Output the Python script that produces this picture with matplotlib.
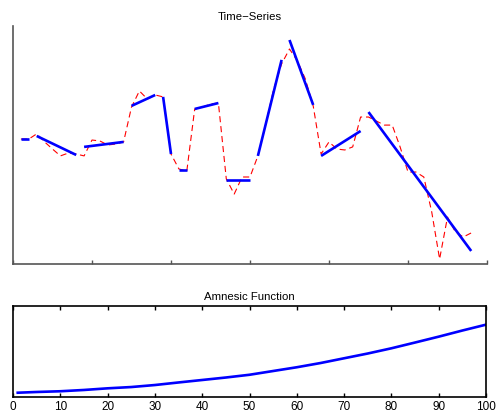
import numpy as np
import matplotlib
matplotlib.use("Agg")
import matplotlib.pyplot as plt

plt.rcParams['font.family'] = ['Liberation Sans', 'DejaVu Sans']

# raw time series (red dashed), one value per time step
series_t = np.arange(1, 59)
series_y = [5.27, 5.27, 5.49, 5.15, 4.85, 4.56, 4.68, 4.64, 4.56, 5.23,
            5.19, 5.02, 5.06, 5.15, 6.62, 7.30, 6.96, 7.13, 7.05, 4.64,
            4.01, 3.92, 6.54, 6.62, 6.75, 6.79, 3.59, 2.95, 3.67, 3.67,
            4.56, 5.91, 7.38, 8.44, 9.07, 8.57, 7.81, 6.67, 4.64, 5.15,
            4.85, 4.81, 4.94, 6.20, 6.20, 6.03, 5.86, 5.86, 4.94, 3.88,
            3.88, 3.67, 2.20, 0.21, 1.98, 1.35, 1.14, 1.31]

# piecewise linear approximation (blue segments): start/end time and value
seg_t0 = [1, 3, 9, 15, 19, 21, 23, 27, 31, 35, 39, 45]
seg_t1 = [2, 8, 14, 18, 20, 22, 26, 30, 34, 38, 44, 58]
seg_y0 = [5.27, 5.40, 4.94, 6.67, 7.05, 3.97, 6.54, 3.54, 4.56, 9.45, 4.56, 6.41]
seg_y1 = [5.27, 4.60, 5.15, 7.13, 4.64, 3.97, 6.79, 3.54, 8.61, 6.71, 5.61, 0.55]

# amnesic function
amn_x = [1, 5, 10, 15, 20, 25, 30, 35, 40, 45, 50,
         55, 60, 65, 70, 75, 80, 85, 90, 95, 100]
amn_y = [0.050, 0.058, 0.066, 0.080, 0.098, 0.112, 0.134, 0.162, 0.189, 0.216, 0.246,
         0.287, 0.328, 0.374, 0.426, 0.478, 0.535, 0.598, 0.662, 0.729, 0.793]

fig = plt.figure(figsize=(4.96, 4.14), dpi=100)

ax1 = fig.add_axes([13 / 496, 1 - 265 / 414, 474 / 496, 238 / 414])
ax1.plot(series_t, series_y, color='red', lw=0.8, dashes=(5.5, 3.5))
for t0, t1, y0, y1 in zip(seg_t0, seg_t1, seg_y0, seg_y1):
    ax1.plot([t0, t1], [y0, y1], color='blue', lw=1.9, solid_capstyle='butt')
ax1.set_xlim(0, 60)
ax1.set_ylim(0, 10.04)
ax1.set_xticks(np.arange(0, 61, 10))
ax1.set_xticklabels([])
ax1.set_yticks([])
ax1.tick_params(axis='x', direction='in', length=3, width=1, color='#555555')
for s in ['top', 'right']:
    ax1.spines[s].set_visible(False)
for s in ['left', 'bottom']:
    ax1.spines[s].set_color('#555555')
    ax1.spines[s].set_linewidth(1.2)
ax1.set_title('Time\u2212Series', fontsize=8.2, pad=5)

ax2 = fig.add_axes([13 / 496, 1 - 398.3 / 414, 473 / 496, 91.6 / 414])
ax2.plot(amn_x, amn_y, color='blue', lw=1.9)
ax2.set_xlim(0, 100)
ax2.set_ylim(0, 1)
ax2.set_xticks(np.arange(0, 101, 10))
ax2.set_yticks([])
ax2.tick_params(axis='x', direction='in', length=3, width=1, top=True,
                labelsize=8.5, pad=2)
for s in ax2.spines.values():
    s.set_linewidth(1.2)
ax2.set_title('Amnesic Function', fontsize=8.2, pad=5)

fig.savefig('out.png', dpi=100)
